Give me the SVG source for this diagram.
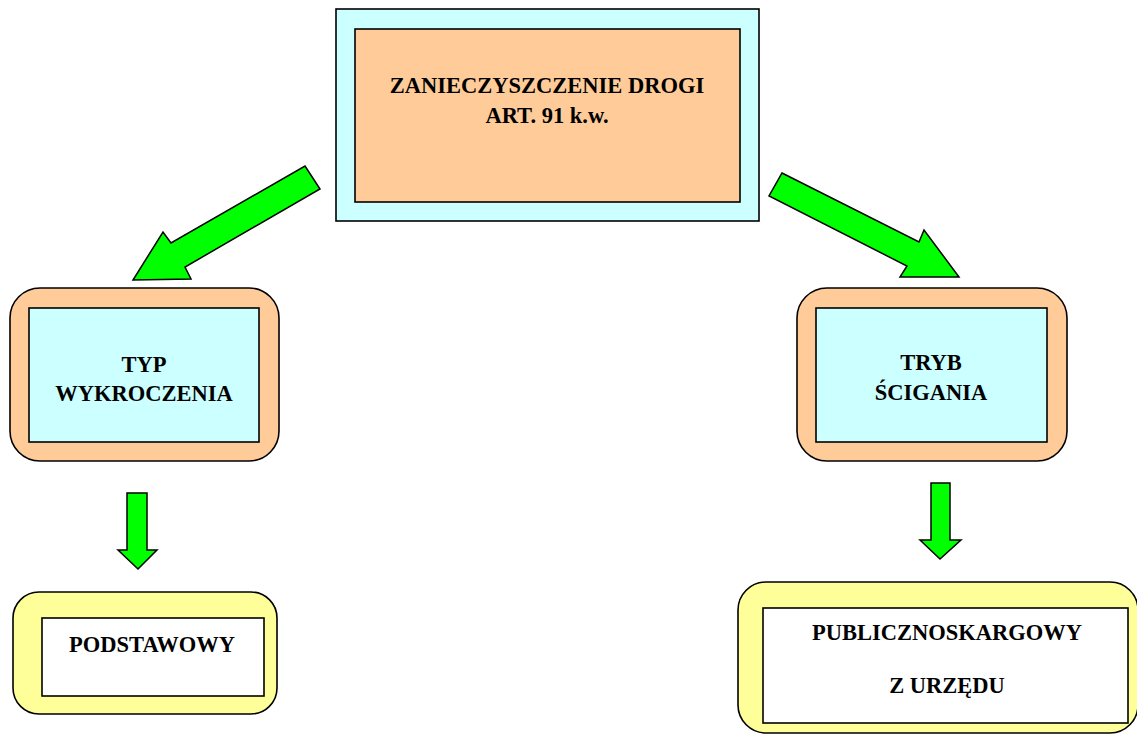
<svg xmlns="http://www.w3.org/2000/svg" width="1137" height="735" viewBox="0 0 1137 735">
<style>
.bg{fill:#ffffff}
.box{stroke:#000;stroke-width:1.6}
.cyan{fill:#CCFFFF}
.peach{fill:#FFCC99}
.yellow{fill:#FFFF99}
.white{fill:#ffffff}
.arrow{fill:#00FF00;stroke:#000;stroke-width:1.5;stroke-linejoin:miter}
.t{font-family:"Liberation Serif","Times New Roman",serif;font-weight:bold;font-size:22.5px;fill:#000;text-anchor:middle}
</style>
<rect class="bg" x="0" y="0" width="1137" height="735"/>
<g id="connectors">
<polygon class="arrow" points="305,166 320,189 185,267 191,279 133,280 163,232 171,243"/>
<polygon class="arrow" points="782,173 919,242 924,230 959,277 900,277 907,266 769,196"/>
<polygon class="arrow" points="127,493 147,493 147,550 157,550 138,569 118,550 127,550"/>
<polygon class="arrow" points="931,483 950,483 950,540 961,540 940,559 920,540 931,540"/>
</g>
<g id="node-main">
<rect class="box cyan" x="336" y="9" width="423" height="212"/>
<rect class="box peach" x="355" y="29" width="385" height="173"/>
<text class="t" x="547" y="93">ZANIECZYSZCZENIE DROGI</text>
<text class="t" x="547" y="123">ART. 91 k.w.</text>
</g>
<g id="node-typ">
<rect class="box peach" x="10" y="288" width="269" height="173" rx="30" ry="30"/>
<rect class="box cyan" x="29" y="308" width="230" height="134"/>
<text class="t" x="144" y="372">TYP</text>
<text class="t" x="144" y="401">WYKROCZENIA</text>
</g>
<g id="node-tryb">
<rect class="box peach" x="797" y="288" width="270" height="173" rx="30" ry="30"/>
<rect class="box cyan" x="816" y="308" width="231" height="134"/>
<text class="t" x="931" y="370">TRYB</text>
<text class="t" x="931" y="400">ŚCIGANIA</text>
</g>
<g id="node-podstawowy">
<rect class="box yellow" x="13" y="592" width="264" height="122" rx="26" ry="26"/>
<rect class="box white" x="42" y="618" width="222" height="78"/>
<text class="t" x="152" y="652">PODSTAWOWY</text>
</g>
<g id="node-publiczno">
<rect class="box yellow" x="738" y="582" width="400" height="151" rx="28" ry="28"/>
<rect class="box white" x="763" y="608" width="365" height="115"/>
<text class="t" x="947" y="640">PUBLICZNOSKARGOWY</text>
<text class="t" x="947" y="693">Z URZĘDU</text>
</g>
</svg>
